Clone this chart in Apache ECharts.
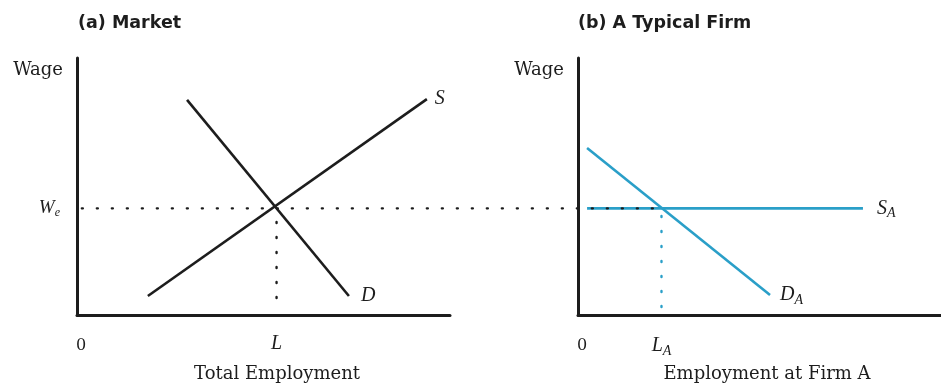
<!DOCTYPE html>
<html>
<head>
<meta charset="utf-8">
<script src="https://cdn.jsdelivr.net/npm/echarts@6/dist/echarts.min.js"></script>
<style>
  html, body { margin: 0; padding: 0; background: #fff; }
  #chart { width: 941px; height: 387px; }
</style>
</head>
<body>
<div id="chart"></div>
<script>
// market (left panel), units 0..10 on both axes
const supply = [[1.9, 0.74], [9.38, 8.4]];
const demand = [[2.95, 8.37], [7.29, 0.74]];
const wageEq = 4.15;
const empEq = 5.35;
const empDotBottom = 0.66;

// the market wage, dotted from the wage axis across into panel (b), in market units
const wageDotFrom = 0.13;
const wageDotTo = 15.68;

// typical firm (right panel)
const firmSupply = [[0.25, 4.15], [7.85, 4.15]];
const firmDemand = [[0.25, 6.5], [5.29, 0.78]];
const firmEmpEq = 2.3;
const firmDotBottom = 0.31;

const xTicksLeft = [0, empEq];
const xTickTextLeft = ['0', 'L'];
const xTicksRight = [0, firmEmpEq];
const xTickTextRight = ['0', 'LA'];

const ink = '#1d1d1d';
const blue = '#2a9fc8';
const serif = 'DejaVu Serif';
const italic = 'Liberation Serif';

const dots = { type: [1, 14], cap: 'round', width: 2.4 };

const leftW = 373, rightW = 363, plotH = 257;
const spanW = 941 - 77;

function axisX(idx, ticks, texts, name, pad) {
  return {
    type: 'value', gridIndex: idx, min: 0, max: 10,
    axisLine: { lineStyle: { color: ink, width: 3 } },
    axisTick: { show: false },
    splitLine: { show: false },
    axisLabel: {
      customValues: ticks, margin: 19, color: ink,
      formatter: v => {
        const t = texts[ticks.indexOf(v)];
        if (t === 'L') return '{i|L}';
        if (t === 'LA') return '{i|L}{s|A}';
        return '{z|' + t + '}';
      },
      rich: {
        z: { fontFamily: serif, fontSize: 16, color: ink, padding: [4, 0, 0, 8] },
        i: { fontFamily: italic, fontStyle: 'italic', fontSize: 20, color: ink },
        s: { fontFamily: italic, fontStyle: 'italic', fontSize: 14, color: ink, padding: [10, 0, 0, 0] }
      }
    },
    name: name, nameLocation: 'middle', nameGap: 50,
    nameTextStyle: { fontFamily: serif, fontSize: 18, color: ink, padding: pad }
  };
}

function axisY(idx, showWe) {
  return {
    type: 'value', gridIndex: idx, min: 0, max: 10,
    axisLine: { lineStyle: { color: ink, width: 3 } },
    axisTick: { show: false },
    splitLine: { show: false },
    axisLabel: {
      show: showWe, customValues: [wageEq], margin: 17,
      formatter: () => '{w|W}{e|e}',
      rich: {
        w: { fontFamily: italic, fontStyle: 'italic', fontSize: 19, color: ink },
        e: { fontFamily: italic, fontStyle: 'italic', fontSize: 12, color: ink, padding: [8, 0, 0, 0] }
      }
    },
    name: 'Wage', nameLocation: 'end', nameGap: -12,
    nameTextStyle: { fontFamily: serif, fontSize: 18, color: ink, align: 'right', verticalAlign: 'middle', padding: [0, 14, 0, 0] }
  };
}

function curve(name, data, grid, color, label, dist) {
  return {
    name: name, type: 'line', xAxisIndex: grid, yAxisIndex: grid,
    data: data, symbol: 'none', silent: true,
    lineStyle: { color: color, width: 2.6 },
    endLabel: {
      show: !!label, distance: dist, formatter: label || '',
      rich: {
        m: { fontFamily: italic, fontStyle: 'italic', fontSize: 20, color: ink },
        s: { fontFamily: italic, fontStyle: 'italic', fontSize: 14, color: ink, padding: [10, 0, 0, 0] }
      }
    }
  };
}

function dotted(name, data, grid, color) {
  return {
    name: name, type: 'line', xAxisIndex: grid, yAxisIndex: grid,
    data: data, symbol: 'none', silent: true, z: 5,
    lineStyle: Object.assign({ color: color }, dots)
  };
}

const chart = echarts.init(document.getElementById('chart'));
chart.setOption({
  animation: false,
  title: [
    { text: '(a) Market', left: 78, top: 14, padding: 0,
      textStyle: { fontFamily: 'DejaVu Sans', fontWeight: 'bold', fontSize: 17.5, color: ink } },
    { text: '(b) A Typical Firm', left: 578, top: 14, padding: 0,
      textStyle: { fontFamily: 'DejaVu Sans', fontWeight: 'bold', fontSize: 17.5, color: ink } }
  ],
  grid: [
    { left: 77, top: 58, width: leftW, height: plotH, outerBoundsMode: 'none' },
    { left: 578, top: 58, width: rightW, height: plotH, outerBoundsMode: 'none' },
    // invisible grid across both panels, market scale, for the carried-over wage line
    { left: 77, top: 58, width: spanW, height: plotH, outerBoundsMode: 'none' }
  ],
  xAxis: [
    axisX(0, xTicksLeft, xTickTextLeft, 'Total Employment', [0, 0, 0, 27]),
    axisX(1, xTicksRight, xTickTextRight, 'Employment at Firm A', [0, 0, 0, 15]),
    { type: 'value', gridIndex: 2, min: 0, max: 10 * spanW / leftW, show: false }
  ],
  yAxis: [
    axisY(0, true),
    axisY(1, false),
    { type: 'value', gridIndex: 2, min: 0, max: 10, show: false }
  ],
  series: [
    curve('S', supply, 0, ink, '{m|S}', 8),
    curve('D', demand, 0, ink, '{m|D}', 12),
    dotted('L', [[empEq, empDotBottom], [empEq, wageEq]], 0, ink),
    curve('SA', firmSupply, 1, blue, '{m|S}{s|A}', 14),
    curve('DA', firmDemand, 1, blue, '{m|D}{s|A}', 10),
    dotted('LA', [[firmEmpEq, firmDotBottom], [firmEmpEq, wageEq]], 1, blue),
    dotted('We', [[wageDotFrom, wageEq], [wageDotTo, wageEq]], 2, ink)
  ]
});
</script>
</body>
</html>
